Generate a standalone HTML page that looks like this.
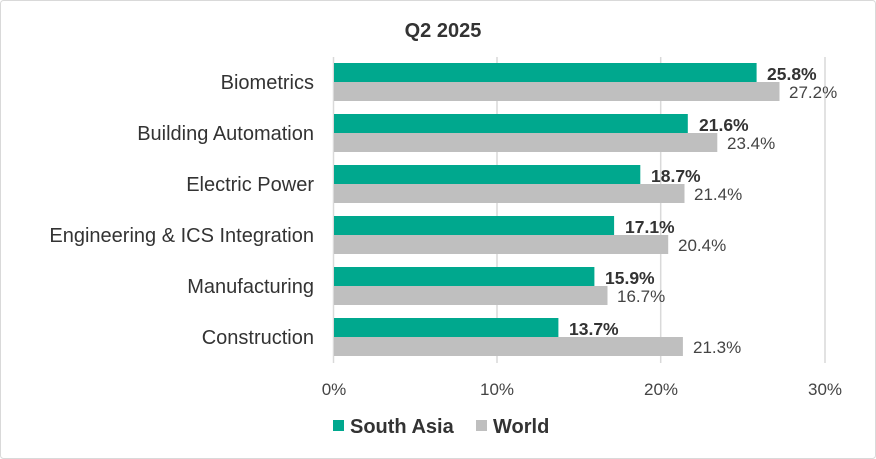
<!DOCTYPE html>
<html><head><style>
body{margin:0;background:#fff}
svg{display:block}
text{font-family:"Liberation Sans",sans-serif}
</style></head><body>
<svg width="876" height="459" viewBox="0 0 876 459">
<rect x="0.5" y="0.5" width="875" height="458" rx="3" fill="#fff" stroke="#d9d9d9"/>
<text x="443" y="37" text-anchor="middle" font-size="20" font-weight="bold" fill="#333">Q2 2025</text>
<g stroke="#d9d9d9" stroke-width="1.5">
<line x1="333.5" y1="57" x2="333.5" y2="363"/>
<line x1="497" y1="57" x2="497" y2="363"/>
<line x1="660.7" y1="57" x2="660.7" y2="363"/>
<line x1="825" y1="57" x2="825" y2="363"/>
</g>
<g font-size="20" fill="#333" text-anchor="end">
<text x="314" y="89">Biometrics</text>
<text x="314" y="140">Building Automation</text>
<text x="314" y="191">Electric Power</text>
<text x="314" y="242">Engineering &amp; ICS Integration</text>
<text x="314" y="293">Manufacturing</text>
<text x="314" y="344">Construction</text>
</g>
<g fill="#00a88e">
<rect x="334" y="63" width="422.6" height="19"/>
<rect x="334" y="114" width="353.8" height="19"/>
<rect x="334" y="165" width="306.3" height="19"/>
<rect x="334" y="216" width="280.1" height="19"/>
<rect x="334" y="267" width="260.4" height="19"/>
<rect x="334" y="318" width="224.4" height="19"/>
</g>
<g fill="#bfbfbf">
<rect x="334" y="82" width="445.5" height="19"/>
<rect x="334" y="133" width="383.3" height="19"/>
<rect x="334" y="184" width="350.5" height="19"/>
<rect x="334" y="235" width="334.2" height="19"/>
<rect x="334" y="286" width="273.5" height="19"/>
<rect x="334" y="337" width="348.9" height="19"/>
</g>
<g font-size="17.5" font-weight="bold" fill="#333">
<text x="767" y="80">25.8%</text>
<text x="699" y="131">21.6%</text>
<text x="651" y="182">18.7%</text>
<text x="625" y="233">17.1%</text>
<text x="605" y="284">15.9%</text>
<text x="569" y="335">13.7%</text>
</g>
<g font-size="17" fill="#444">
<text x="789" y="98">27.2%</text>
<text x="727" y="149">23.4%</text>
<text x="694" y="200">21.4%</text>
<text x="678" y="251">20.4%</text>
<text x="617" y="302">16.7%</text>
<text x="693" y="353">21.3%</text>
</g>
<g font-size="17" fill="#444" text-anchor="middle">
<text x="334" y="395">0%</text>
<text x="497" y="395">10%</text>
<text x="661" y="395">20%</text>
<text x="825" y="395">30%</text>
</g>
<rect x="333" y="420" width="11" height="11" fill="#00a88e"/>
<text x="350" y="433" font-size="20" font-weight="bold" fill="#333">South Asia</text>
<rect x="476" y="420" width="11" height="11" fill="#bfbfbf"/>
<text x="493" y="433" font-size="20" font-weight="bold" fill="#333">World</text>
</svg>
</body></html>
